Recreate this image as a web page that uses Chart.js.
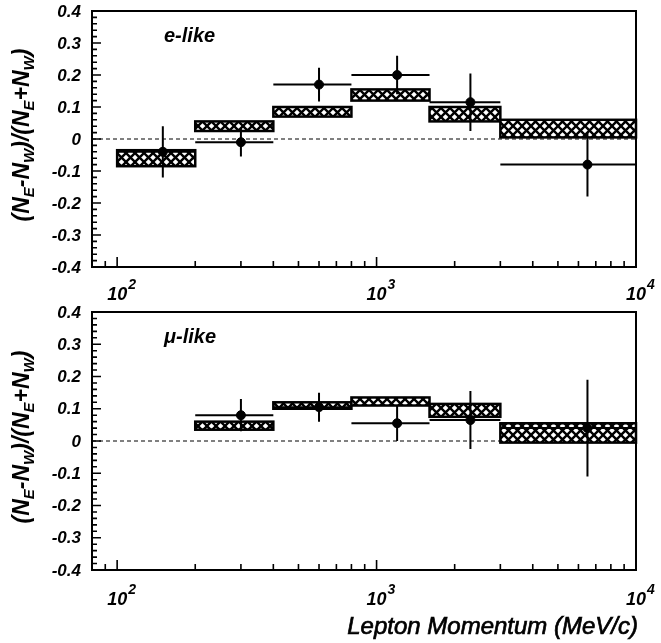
<!DOCTYPE html>
<html>
<head>
<meta charset="utf-8">
<script src="https://cdn.jsdelivr.net/npm/chart.js@4.4.1/dist/chart.umd.min.js"></script>
<style>
  html, body { margin: 0; padding: 0; background: #fff; }
  #wrap { position: relative; width: 661px; height: 643px; }
  canvas { position: absolute; left: 0; }
  #top { top: 0; }
  #bottom { top: 300px; }
</style>
</head>
<body>
<div id="wrap">
  <canvas id="top" width="661" height="300"></canvas>
  <canvas id="bottom" width="661" height="343"></canvas>
</div>
<script>
// bins in lepton momentum (MeV/c)
const binEdges = [100, 200, 400, 800, 1600, 3000, 10000];
const pointMomentum = [150, 300, 600, 1200, 2300, 6500];

// e-like asymmetry
const eValues = [-0.04, -0.01, 0.17, 0.20, 0.115, -0.08];
const eErrors = [0.08, 0.045, 0.053, 0.06, 0.09, 0.10];
const eBoxLow = [-0.085, 0.025, 0.07, 0.12, 0.055, 0.005];
const eBoxHigh = [-0.035, 0.055, 0.10, 0.155, 0.10, 0.06];

// mu-like asymmetry (nothing in first bin)
const muValues = [null, 0.08, 0.105, 0.055, 0.065, 0.04];
const muErrors = [null, 0.05, 0.045, 0.055, 0.09, 0.15];
const muBoxLow = [null, 0.035, 0.10, 0.11, 0.075, -0.005];
const muBoxHigh = [null, 0.06, 0.12, 0.135, 0.115, 0.055];

const yTicks = [0.4, 0.3, 0.2, 0.1, 0, -0.1, -0.2, -0.3, -0.4];
const yTickLabels = ['0.4', '0.3', '0.2', '0.1', '0', '-0.1', '-0.2', '-0.3', '-0.4'];
const xDecades = [100, 1000, 10000];
const xDecadeExps = ['2', '3', '4'];

const FONT = '"Liberation Sans", Arial, sans-serif';

function hatchPattern() {
  const c = document.createElement('canvas');
  c.width = 9; c.height = 9;
  const g = c.getContext('2d');
  g.fillStyle = '#fff';
  g.fillRect(0, 0, 9, 9);
  g.strokeStyle = '#000';
  g.lineWidth = 2.4;
  g.beginPath();
  g.moveTo(-1, -1); g.lineTo(10, 10);
  g.moveTo(10, -1); g.lineTo(-1, 10);
  g.stroke();
  return g.createPattern(c, 'repeat');
}

function drawYTitle(ctx, cx, cy) {
  const parts = [
    ['(N', 0], ['E', 1], ['-N', 0], ['W', 1], [')/(N', 0], ['E', 1], ['+N', 0], ['W', 1], [')', 0]
  ];
  const big = 'italic bold 23px ' + FONT;
  const small = 'italic bold 15px ' + FONT;
  ctx.save();
  let total = 0;
  parts.forEach(([t, s]) => { ctx.font = s ? small : big; total += ctx.measureText(t).width; });
  ctx.translate(cx, cy);
  ctx.rotate(-Math.PI / 2);
  ctx.fillStyle = '#000';
  ctx.textBaseline = 'alphabetic';
  ctx.textAlign = 'left';
  let x = -total / 2;
  parts.forEach(([t, s]) => {
    ctx.font = s ? small : big;
    ctx.fillText(t, x, s ? 13 : 8);
    x += ctx.measureText(t).width;
  });
  ctx.restore();
}

function panelPlugin(cfg) {
  return {
    id: 'panel',
    beforeDatasetsDraw(chart) {
      const { ctx, chartArea: a, scales: { x, y } } = chart;
      ctx.save();
      // zero line
      ctx.strokeStyle = '#000';
      ctx.lineWidth = 1;
      ctx.setLineDash([4, 3]);
      ctx.beginPath();
      ctx.moveTo(a.left, y.getPixelForValue(0));
      ctx.lineTo(a.right, y.getPixelForValue(0));
      ctx.stroke();
      ctx.setLineDash([]);
      // systematic boxes
      const pat = hatchPattern();
      cfg.boxLow.forEach((lo, i) => {
        if (lo === null) return;
        const x0 = x.getPixelForValue(binEdges[i]);
        const x1 = x.getPixelForValue(binEdges[i + 1]);
        const y0 = y.getPixelForValue(cfg.boxHigh[i]);
        const y1 = y.getPixelForValue(lo);
        ctx.fillStyle = pat;
        ctx.fillRect(x0, y0, x1 - x0, y1 - y0);
        ctx.lineWidth = 2.5;
        ctx.strokeStyle = '#000';
        ctx.strokeRect(x0, y0, x1 - x0, y1 - y0);
      });
      // bin widths and error bars
      ctx.lineWidth = 2;
      cfg.values.forEach((v, i) => {
        if (v === null) return;
        const py = y.getPixelForValue(v);
        const px = x.getPixelForValue(pointMomentum[i]);
        ctx.beginPath();
        ctx.moveTo(x.getPixelForValue(binEdges[i]), py);
        ctx.lineTo(x.getPixelForValue(binEdges[i + 1]), py);
        ctx.moveTo(px, y.getPixelForValue(v + cfg.errors[i]));
        ctx.lineTo(px, y.getPixelForValue(v - cfg.errors[i]));
        ctx.stroke();
      });
      ctx.restore();
    },
    afterDraw(chart) {
      const { ctx, chartArea: a, scales: { x, y } } = chart;
      ctx.save();
      ctx.strokeStyle = '#000';
      ctx.fillStyle = '#000';
      // y ticks, inward
      ctx.lineWidth = 1.6;
      ctx.beginPath();
      for (let k = -20; k <= 20; k++) {
        const py = y.getPixelForValue(k * 0.02);
        const len = k % 5 === 0 ? 9 : 5;
        ctx.moveTo(a.left, py);
        ctx.lineTo(a.left + len, py);
      }
      // x ticks, inward from bottom
      [10, 100, 1000].forEach(dec => {
        for (let m = 1; m < 10; m++) {
          const v = dec * m;
          if (v < x.min || v > x.max) continue;
          const px = x.getPixelForValue(v);
          const len = m === 1 ? 10 : 6;
          ctx.moveTo(px, a.bottom);
          ctx.lineTo(px, a.bottom - len);
        }
      });
      ctx.stroke();
      // frame
      ctx.lineWidth = 2;
      ctx.strokeRect(a.left, a.top, a.right - a.left, a.bottom - a.top);
      // y tick labels
      ctx.font = 'italic bold 17px ' + FONT;
      ctx.textAlign = 'right';
      ctx.textBaseline = 'middle';
      yTicks.forEach((t, i) => ctx.fillText(yTickLabels[i], a.left - 11, y.getPixelForValue(t) + 1));
      // x tick labels 10^n
      xDecades.forEach((d, i) => {
        const px = x.getPixelForValue(d);
        ctx.font = 'italic bold 18px ' + FONT;
        ctx.textAlign = 'center';
        ctx.textBaseline = 'alphabetic';
        ctx.fillText('10', px, a.bottom + cfg.xLabelGap);
        const w = ctx.measureText('10').width;
        ctx.font = 'italic bold 14px ' + FONT;
        ctx.textAlign = 'left';
        ctx.fillText(xDecadeExps[i], px + w / 2 + 1, a.bottom + cfg.xLabelGap - 11);
      });
      // panel label
      ctx.font = 'italic bold 20px ' + FONT;
      ctx.textAlign = 'left';
      ctx.textBaseline = 'alphabetic';
      ctx.fillText(cfg.label, 164, a.top + 31);
      // axis title
      drawYTitle(ctx, 21, (a.top + a.bottom) / 2 - 4);
      if (cfg.xTitle) {
        ctx.font = 'italic 24px ' + FONT;
        ctx.textAlign = 'right';
        ctx.lineWidth = 0.7;
        ctx.fillText(cfg.xTitle, a.right + 2, a.bottom + 64);
        ctx.strokeText(cfg.xTitle, a.right + 2, a.bottom + 64);
      }
      ctx.restore();
    }
  };
}

function makePanel(id, cfg, padding) {
  const pts = [];
  cfg.values.forEach((v, i) => { if (v !== null) pts.push({ x: pointMomentum[i], y: v }); });
  return new Chart(document.getElementById(id), {
    type: 'scatter',
    data: {
      datasets: [{
        data: pts,
        pointRadius: 4.5,
        pointBackgroundColor: '#000',
        pointBorderColor: '#000',
        showLine: false,
      }],
    },
    options: {
      responsive: false,
      animation: false,
      layout: { padding },
      scales: {
        x: { type: 'logarithmic', min: 80, max: 10000, display: false },
        y: { type: 'linear', min: -0.4, max: 0.4, display: false },
      },
      plugins: { legend: { display: false }, tooltip: { enabled: false } },
    },
    plugins: [panelPlugin(cfg)],
  });
}

makePanel('top', {
  label: 'e-like', values: eValues, errors: eErrors, boxLow: eBoxLow, boxHigh: eBoxHigh,
  xLabelGap: 33,
}, { left: 92, right: 25, top: 11, bottom: 33 });

makePanel('bottom', {
  label: 'μ-like', values: muValues, errors: muErrors, boxLow: muBoxLow, boxHigh: muBoxHigh,
  xLabelGap: 35, xTitle: 'Lepton Momentum (MeV/c)',
}, { left: 92, right: 25, top: 12, bottom: 73 });
</script>
</body>
</html>
